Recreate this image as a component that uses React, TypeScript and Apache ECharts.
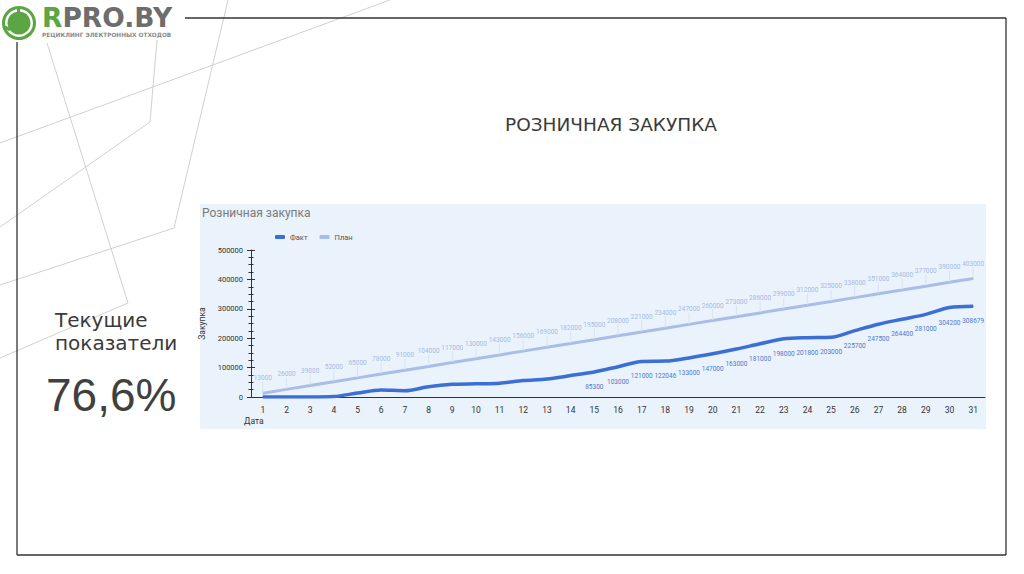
import React, { useEffect, useRef } from "react";
import * as echarts from "echarts";

const days = ["1","2","3","4","5","6","7","8","9","10","11","12","13","14","15","16","17","18","19","20","21","22","23","24","25","26","27","28","29","30","31"];
const factValues = [0, 0, 0, 1500, 13500, 24000, 21500, 35000, 43000, 45000, 47000, 56000, 61000, 73000, 85300, 103000, 121000, 122046, 133000, 147000, 163000, 181000, 198000, 201800, 203000, 225700, 247500, 264400, 281000, 304200, 308679];
const planValues = [13000, 26000, 39000, 52000, 65000, 78000, 91000, 104000, 117000, 130000, 143000, 156000, 169000, 182000, 195000, 208000, 221000, 234000, 247000, 260000, 273000, 286000, 299000, 312000, 325000, 338000, 351000, 364000, 377000, 390000, 403000];
const factLabelFrom = 14;
const seriesNames = ["Факт", "План"];
const chartTitle = "Розничная закупка";
const yName = "Закупка";
const xName = "Дата";
const slideTitle = "РОЗНИЧНАЯ ЗАКУПКА";
const sideLines = ["Текущие", "показатели"];
const sideValue = "76,6%";
const yMin = 0;
const yMax = 500000;
const yInterval = 100000;

const NARROW = '"Liberation Sans Narrow", "Roboto", "Liberation Sans", sans-serif';
const AXIS = "#333333";
const DECO = "#d0d0d0";

export default function App() {
  const ref = useRef<HTMLDivElement>(null);
  useEffect(() => {
    if (!ref.current) return;
    const chart = echarts.init(ref.current, null, { renderer: "svg" });
    const decoLines = [
      [[0, 143], [390, 0]],
      [[228, 0], [174, 228], [0, 285]],
      [[47, 43], [128, 303], [0, 358]],
      [[157, 40], [150, 122], [0, 227]],
    ];
    const graphic: any[] = [
      ...decoLines.map((pts) => ({
        type: "polyline",
        z: -20,
        shape: { points: pts },
        style: { stroke: DECO, lineWidth: 1, fill: null },
      })),
      // frame
      { type: "line", z: -15, shape: { x1: 185, y1: 18, x2: 1006, y2: 18 }, style: { stroke: AXIS, lineWidth: 1.3 } },
      { type: "line", z: -15, shape: { x1: 1006, y1: 18, x2: 1006, y2: 555 }, style: { stroke: AXIS, lineWidth: 1.3 } },
      { type: "line", z: -15, shape: { x1: 17, y1: 555, x2: 1006, y2: 555 }, style: { stroke: AXIS, lineWidth: 1.3 } },
      { type: "line", z: -15, shape: { x1: 17, y1: 42, x2: 17, y2: 555 }, style: { stroke: AXIS, lineWidth: 1.3 } },
      // logo icon
      { type: "circle", z: -10, shape: { cx: 19, cy: 23, r: 17 }, style: { fill: "#5ba544" } },
      { type: "ring", z: -9, shape: { cx: 19, cy: 23, r: 14, r0: 11.5 }, style: { fill: "#ffffff" } },
      { type: "rect", z: -8, x: 17, y: 7, shape: { x: 0, y: 0, width: 3, height: 6 }, style: { fill: "#5ba544" } },
      { type: "rect", z: -8, x: 4, y: 28, rotation: 1.0, shape: { x: 0, y: 0, width: 3, height: 6 }, style: { fill: "#5ba544" } },
      { type: "rect", z: -8, x: 30, y: 32, rotation: -1.0, shape: { x: 0, y: 0, width: 3, height: 6 }, style: { fill: "#5ba544" } },
      { type: "circle", z: -8, shape: { cx: 19, cy: 20, r: 7 }, style: { fill: "#5ba544" } },
      { type: "rect", z: -8, shape: { x: 18, y: 24, width: 2, height: 9 }, style: { fill: "#5ba544" } },
      {
        type: "text", z: -8, x: 42, y: 17,
        style: {
          text: "{r|R}{g|PRO.BY}",
          verticalAlign: "middle",
          rich: {
            r: { fontSize: 26.5, fontWeight: "bold", fontFamily: '"DejaVu Sans", sans-serif', fill: "#5ba544", lineHeight: 26 },
            g: { fontSize: 26.5, fontWeight: "bold", fontFamily: '"DejaVu Sans", sans-serif', fill: "#6d6d6d", lineHeight: 26 },
          },
        },
      },
      {
        type: "text", z: -8, x: 42, y: 34.5,
        style: { text: "РЕЦИКЛИНГ ЭЛЕКТРОННЫХ ОТХОДОВ", fontSize: 5.8, fontWeight: "bold", fontFamily: '"DejaVu Sans", sans-serif', fill: "#8a8a8a", verticalAlign: "middle" },
      },
      // slide title
      {
        type: "text", z: -8, x: 611, y: 124,
        style: { text: slideTitle, fontSize: 18.5, fontFamily: '"DejaVu Sans", sans-serif', fill: "#3a3a3a", align: "center", verticalAlign: "middle" },
      },
      {
        type: "text", z: -8, x: 55, y: 320,
        style: { text: sideLines[0], fontSize: 20, fontFamily: '"DejaVu Sans", sans-serif', fill: "#3a3a3a", verticalAlign: "middle" },
      },
      {
        type: "text", z: -8, x: 55, y: 343,
        style: { text: sideLines[1], fontSize: 20, fontFamily: '"DejaVu Sans", sans-serif', fill: "#3a3a3a", verticalAlign: "middle" },
      },
      {
        type: "text", z: -8, x: 46, y: 395,
        style: { text: sideValue, fontSize: 46, fontFamily: '"Liberation Sans", Arial, sans-serif', fill: "#404040", verticalAlign: "middle" },
      },
      // chart panel
      { type: "rect", z: -5, shape: { x: 200, y: 204, width: 786, height: 225 }, style: { fill: "#eaf2fb" } },
    ];

    const baseX = {
      type: "category",
      data: days,
      boundaryGap: true,
      gridIndex: 0,
    };
    const baseY = { type: "value", min: yMin, max: yMax, interval: yInterval, gridIndex: 0 };

    chart.setOption({
      animation: false,
      backgroundColor: "#ffffff",
      graphic,
      title: {
        text: chartTitle,
        left: 202,
        top: 207,
        padding: 0,
        textStyle: { fontSize: 12, fontWeight: "normal", color: "#7a7a7a", fontFamily: NARROW },
      },
      legend: {
        data: seriesNames,
        left: 275,
        top: 233,
        padding: 0,
        icon: "roundRect",
        itemWidth: 10,
        itemHeight: 4,
        itemGap: 12,
        textStyle: { fontSize: 7.5, color: "#555555", fontFamily: NARROW },
      },
      grid: { left: 251, right: 39, top: 250, bottom: 177, containLabel: false },
      xAxis: [
        {
          ...baseX,
          position: "bottom",
          name: xName,
          nameLocation: "start",
          nameGap: 7,
          nameTextStyle: { fontSize: 8.5, color: AXIS, fontFamily: NARROW, align: "left", verticalAlign: "top", padding: [19, 0, 0, 0] },
          axisLine: { lineStyle: { color: AXIS, width: 1 } },
          axisTick: { alignWithLabel: true, length: 4, lineStyle: { color: AXIS } },
          axisLabel: { fontSize: 8.5, color: AXIS, margin: 8, fontFamily: NARROW },
          splitLine: { show: false },
        },
        {
          ...baseX,
          position: "bottom",
          axisLine: { show: false },
          axisTick: { alignWithLabel: true, inside: true, length: 4, lineStyle: { color: AXIS } },
          axisLabel: { show: false },
          splitLine: { show: false },
        },
      ],
      yAxis: [
        {
          ...baseY,
          position: "left",
          name: yName,
          nameLocation: "middle",
          nameGap: 33,
          nameTextStyle: { fontSize: 8.5, color: AXIS, fontFamily: NARROW },
          axisLine: { show: true, lineStyle: { color: AXIS, width: 1 } },
          axisTick: { show: true, length: 4, lineStyle: { color: AXIS } },
          minorTick: { show: true, splitNumber: 4, length: 2.5, lineStyle: { color: AXIS } },
          axisLabel: { fontSize: 7.5, color: AXIS, margin: 8, fontFamily: NARROW, formatter: (v: number) => String(v) },
          splitLine: { show: false },
          minorSplitLine: { show: false },
        },
        {
          ...baseY,
          position: "left",
          axisLine: { show: false },
          axisTick: { show: true, inside: true, length: 4, lineStyle: { color: AXIS } },
          minorTick: { show: true, splitNumber: 4, length: 2.5, lineStyle: { color: AXIS } },
          axisLabel: { show: false },
          splitLine: { show: false },
        },
      ],
      series: [
        {
          name: seriesNames[0],
          type: "line",
          xAxisIndex: 0,
          yAxisIndex: 0,
          data: factValues.map((v, i) => ({ value: v, label: { show: i >= factLabelFrom } })),
          smooth: 0.3,
          symbol: "circle",
          symbolSize: 1,
          color: "#3b6fd6",
          lineStyle: { width: 3.5, color: "#3b6fd6" },
          itemStyle: { color: "#3b6fd6" },
          label: { position: "bottom", distance: 11, fontSize: 6.5, color: "#5079cc", fontFamily: NARROW, formatter: (p: any) => String(p.value) },
          z: 4,
        },
        {
          name: seriesNames[1],
          type: "line",
          xAxisIndex: 0,
          yAxisIndex: 0,
          data: planValues,
          symbol: "circle",
          symbolSize: 1,
          color: "#a9bde8",
          lineStyle: { width: 3, color: "#a9bde8" },
          itemStyle: { color: "#a9bde8" },
          label: { show: true, position: "top", distance: 2, fontSize: 6.5, color: "#a7bbe2", fontFamily: NARROW, formatter: (p: any) => String(p.value) },
          labelLayout: { dy: -9 },
          labelLine: { show: true, lineStyle: { color: "#d9e3f1", width: 1 } },
          z: 3,
        },
      ],
    });
    return () => chart.dispose();
  }, []);
  return <div ref={ref} style={{ position: "absolute", left: 0, top: 0, width: 1024, height: 574 }} />;
}
